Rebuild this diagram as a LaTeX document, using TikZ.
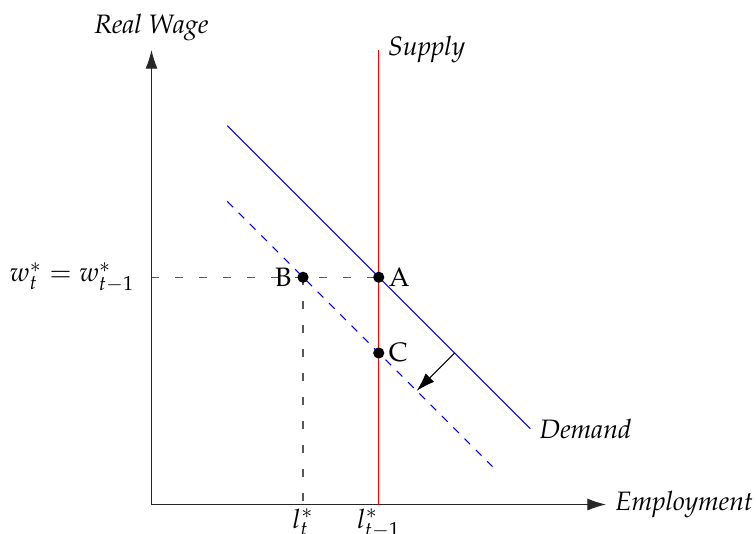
\documentclass[tikz,border=0pt]{standalone}
\usepackage[T1]{fontenc}
\usepackage{mathpazo}
\usetikzlibrary{arrows.meta,positioning}

\begin{document}
\begin{tikzpicture}[
  every node/.style={font=\normalsize},
  dot/.style={circle,fill=black,inner sep=0pt,minimum size=4.2pt},
  axis/.style={black!85,-{Latex[length=7pt,width=4.5pt]}},
  guide/.style={loosely dashed,black!65},
  curvename/.style={font=\itshape}]
\useasboundingbox (-2,-0.38) rectangle (7.98,6.66);
% axes
\coordinate (O) at (0,0);
\coordinate (ytop) at (0,6);
\coordinate (xend) at (6,0);
\draw[axis] (O) -- (ytop);
\draw[axis] (O) -- (xend);
\node[curvename,above=0pt of ytop] (ylab) {Real Wage};
\node[curvename,right=0pt of xend] (xlab) {Employment};
% supply and demand
\coordinate (sbot) at (3,0);
\coordinate (stop) at (3,6);
\coordinate (d1s) at (1,5);
\coordinate (d1e) at (5,1);
\coordinate (d2s) at (1,4);
\coordinate (d2e) at (4.5,0.5);
\coordinate (wax) at (0,3);
\coordinate (lax) at (2,0);
\draw[guide] (wax) -- (3,3);
\draw[guide] (2,3) -- (lax);
\draw[red] (sbot) -- (stop);
\draw[blue] (d1s) -- (d1e);
\draw[blue,dashed] (d2s) -- (d2e);
\node[curvename,right=0pt of stop] (slab) {Supply};
\node[curvename,right=0pt of d1e] (dlab) {Demand};
% equilibria
\node[dot] (A) at (3,3) {};
\node[dot] (B) at (2,3) {};
\node[dot] (C) at (3,2) {};
\node[right=-2pt of A] {A};
\node[left=-1.5pt of B] {B};
\node[right=-2pt of C] {C};
\node[left=0.1 of wax] (wlab) {$w_t^*=w_{t-1}^*$};
\node[below=-2pt of lax] (l1lab) {$l_t^*$};
\node[below=-2pt of sbot] (l2lab) {$l_{t-1}^*$};
% shift of demand
\coordinate (sh1) at (4,2);
\coordinate (sh2) at (3.5,1.5);
\draw[-{Latex[length=7pt,width=4.5pt]}] (sh1) -- (sh2);
\end{tikzpicture}
\end{document}
